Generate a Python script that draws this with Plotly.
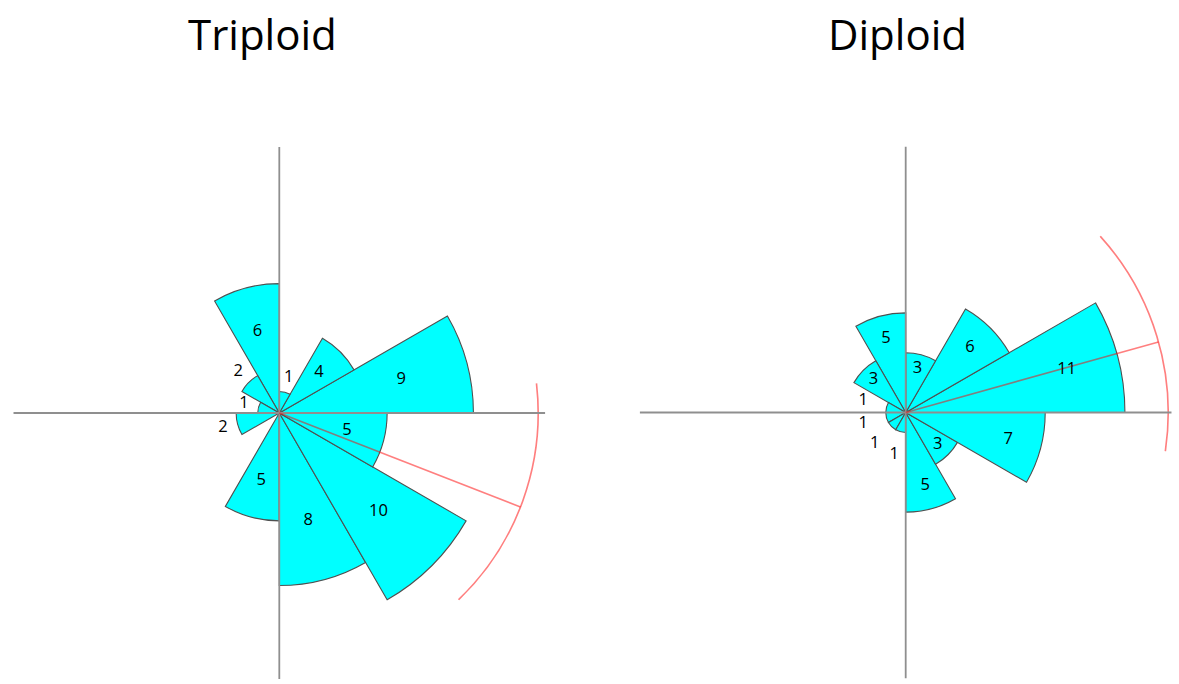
import plotly.graph_objects as go

# Orientation counts per 30-degree sector (sector start angles, counter-clockwise from east)
bin_starts = [0, 30, 60, 90, 120, 150, 180, 210, 240, 270, 300, 330]
triploid_counts = [9, 4, 1, 6, 2, 1, 2, 0, 5, 8, 10, 5]
diploid_counts = [11, 6, 3, 5, 3, 1, 1, 1, 1, 5, 3, 7]

# Mean direction and its confidence interval (degrees)
triploid_mean = -21.3
triploid_ci = (-46.0, 6.4)
diploid_mean = 15.6
diploid_ci = (-8.3, 42.0)

panel_titles = ["Triploid", "Diploid"]

W, H = 1179, 684
BIN_W = 30
CYAN = "#00FFFF"
EDGE = "#505050"
AXIS = "#8f8f8f"
RED = "rgba(255,0,0,0.5)"
FONT = "Open Sans"

# layout of each panel: centre (px), polar radius (px), pixels per count,
# cross-hair lengths (right, left, up, down) and CI arc radius, in counts,
# plus count-label placement (fraction of sector length / offset past small sectors)
panels = [
    dict(name="polar", cx=279.3, cy=413.0, R=266, ppu=21.57,
         cross=(12.55, 12.5, 12.5, 12.4), arc_r=12.0, title_x=262,
         lab_frac=0.65, lab_pad=0.7,
         counts=triploid_counts, mean=triploid_mean, ci=triploid_ci),
    dict(name="polar2", cx=905.7, cy=412.5, R=266, ppu=19.93,
         cross=(13.75, 13.75, 13.8, 13.45), arc_r=13.17, title_x=897.5,
         lab_frac=0.76, lab_pad=1.2,
         counts=diploid_counts, mean=diploid_mean, ci=diploid_ci),
]

fig = go.Figure()
layout_polars = {}

for p, title in zip(panels, panel_titles):
    sub = p["name"]
    counts = p["counts"]
    centres = [b + BIN_W / 2 for b in bin_starts]
    nz = [i for i, c in enumerate(counts) if c > 0]

    # cross-hair axes through the origin
    r_, l_, u_, d_ = p["cross"]
    fig.add_trace(go.Scatterpolar(
        r=[r_, l_, None, u_, d_], theta=[0, 180, None, 90, 270],
        mode="lines", line=dict(color=AXIS, width=1.8),
        cliponaxis=False, hoverinfo="skip", showlegend=False, subplot=sub))

    # rose sectors
    fig.add_trace(go.Barpolar(
        r=[counts[i] for i in nz], theta=[centres[i] for i in nz],
        width=[BIN_W] * len(nz),
        marker=dict(color=CYAN, line=dict(color=EDGE, width=1.1)),
        showlegend=False, subplot=sub))

    # mean direction
    fig.add_trace(go.Scatterpolar(
        r=[0, p["arc_r"]], theta=[p["mean"], p["mean"]],
        mode="lines", line=dict(color=RED, width=1.6),
        hoverinfo="skip", showlegend=False, subplot=sub))

    # confidence arc, drawn as a hairline annular sector
    lo, hi = p["ci"]
    fig.add_trace(go.Barpolar(
        r=[0.002], base=[p["arc_r"]], theta=[(lo + hi) / 2], width=[hi - lo],
        marker=dict(color="rgba(0,0,0,0)", line=dict(color=RED, width=1.6)),
        hoverinfo="skip", showlegend=False, subplot=sub))

    # count labels: inside large sectors, just outside small ones
    lab_r = [counts[i] * p["lab_frac"] if counts[i] >= 3 else counts[i] + p["lab_pad"]
             for i in nz]
    fig.add_trace(go.Scatterpolar(
        r=lab_r, theta=[centres[i] for i in nz],
        text=[str(counts[i]) for i in nz], mode="text",
        textfont=dict(family=FONT, size=16.5, color="black"),
        cliponaxis=False, hoverinfo="skip", showlegend=False, subplot=sub))

    R = p["R"]
    layout_polars[sub] = dict(
        domain=dict(x=[(p["cx"] - R) / W, (p["cx"] + R) / W],
                    y=[1 - (p["cy"] + R) / H, 1 - (p["cy"] - R) / H]),
        bgcolor="white",
        radialaxis=dict(visible=False, range=[0, R / p["ppu"]], showgrid=False),
        angularaxis=dict(visible=False, showgrid=False, rotation=0,
                         direction="counterclockwise"),
        barmode="overlay",
    )

    fig.add_annotation(
        text=title, x=p["title_x"] / W, y=1 - 33 / H, xref="paper", yref="paper",
        xanchor="center", yanchor="middle", showarrow=False,
        font=dict(family=FONT, size=42, color="black"))

fig.update_layout(
    width=W, height=H, autosize=False,
    margin=dict(l=0, r=0, t=0, b=0),
    paper_bgcolor="white", plot_bgcolor="white",
    showlegend=False,
    **layout_polars,
)

fig.write_html("out.html")
